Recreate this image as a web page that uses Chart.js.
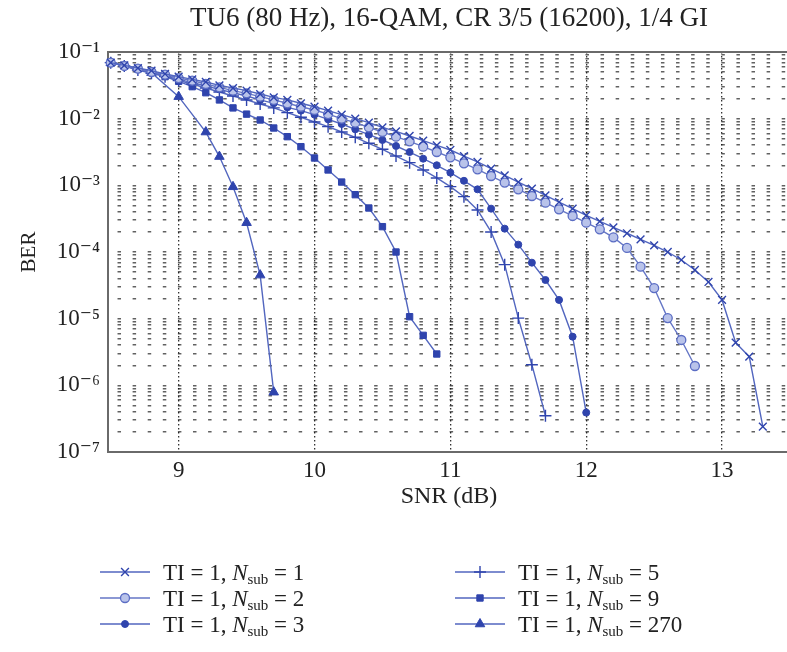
<!DOCTYPE html>
<html>
<head>
<meta charset="utf-8">
<script src="https://cdn.jsdelivr.net/npm/chart.js@4.4.1/dist/chart.umd.min.js"></script>
<style>
html,body{margin:0;padding:0;background:#fff;overflow:hidden;width:787px;height:652px}
#wrap{position:relative;width:800px;height:652px}
</style>
</head>
<body>
<div id="wrap"><canvas id="c" width="800" height="652"></canvas></div>
<script>
// ---- Data ----
const chartTitle = 'TU6 (80 Hz), 16-QAM, CR 3/5 (16200), 1/4 GI';
const xTitle = 'SNR (dB)';
const yTitle = 'BER';
const xTickValues = [9, 10, 11, 12, 13];
const yDecades = [1e-7, 1e-6, 1e-5, 1e-4, 1e-3, 1e-2, 1e-1];
const yTickLabels = ['10\u207B\u2077', '10\u207B\u2076', '10\u207B\u2075', '10\u207B\u2074', '10\u207B\u00B3', '10\u207B\u00B2', '10\u207B\u00B9'];
const legendNsub = ['1', '2', '3', '5', '9', '270'];

const snrN1 = [8.5,8.6,8.7,8.8,8.9,9.0,9.1,9.2,9.3,9.4,9.5,9.6,9.7,9.8,9.9,10.0,10.1,10.2,10.3,10.4,10.5,10.6,10.7,10.8,10.9,11.0,11.1,11.2,11.3,11.4,11.5,11.6,11.7,11.8,11.9,12.0,12.1,12.2,12.3,12.4,12.5,12.6,12.7,12.8,12.9,13.0,13.1,13.2,13.3];
const berN1 = [0.0692,0.0631,0.0575,0.0525,0.0468, 0.0427,0.0389,0.0355,0.0316,0.0288, 0.0263,0.0234,0.0209,0.0191,0.0170, 0.0151,0.0132,0.0115,0.0100,0.00871, 0.00741,0.00646,0.00550,0.00468,0.00398, 0.00339,0.00275,0.00224,0.00178,0.00141, 0.00112,8.91e-4,7.08e-4,5.62e-4,4.47e-4, 3.55e-4,2.88e-4,2.34e-4,1.91e-4,1.55e-4, 1.26e-4,1.00e-4,7.59e-5,5.37e-5,3.55e-5, 1.91e-5,4.37e-6,2.69e-6,2.4e-7];

const snrN2 = [8.5,8.6,8.7,8.8,8.9,9.0,9.1,9.2,9.3,9.4,9.5,9.6,9.7,9.8,9.9,10.0,10.1,10.2,10.3,10.4,10.5,10.6,10.7,10.8,10.9,11.0,11.1,11.2,11.3,11.4,11.5,11.6,11.7,11.8,11.9,12.0,12.1,12.2,12.3,12.4,12.5,12.6,12.7,12.8];
const berN2 = [0.0692,0.0617,0.0562,0.0501,0.0457, 0.0407,0.0372,0.0331,0.0295,0.0263, 0.0240,0.0214,0.0191,0.0170,0.0151, 0.0135,0.0117,0.0100,0.00871,0.00741, 0.00631,0.00537,0.00457,0.00380,0.00316, 0.00263,0.00214,0.00174,0.00138,0.00110, 8.71e-4,6.92e-4,5.50e-4,4.37e-4,3.47e-4, 2.75e-4,2.19e-4,1.66e-4,1.15e-4,6.03e-5, 2.88e-5,1.02e-5,4.79e-6,1.95e-6];

const snrN3 = [8.5,8.6,8.7,8.8,8.9,9.0,9.1,9.2,9.3,9.4,9.5,9.6,9.7,9.8,9.9,10.0,10.1,10.2,10.3,10.4,10.5,10.6,10.7,10.8,10.9,11.0,11.1,11.2,11.3,11.4,11.5,11.6,11.7,11.8,11.9,12.0];
const berN3 = [0.0692,0.0617,0.0550,0.0490,0.0437, 0.0389,0.0347,0.0309,0.0275,0.0245, 0.0219,0.0191,0.0170,0.0148,0.0132, 0.0115,0.00977,0.00832,0.00692,0.00575, 0.00479,0.00389,0.00316,0.00251,0.00200, 0.00155,0.00117,8.71e-4,4.47e-4,2.24e-4, 1.29e-4,6.92e-5,3.80e-5,1.91e-5,5.37e-6, 3.9e-7];

const snrN5 = [8.5,8.6,8.7,8.8,8.9,9.0,9.1,9.2,9.3,9.4,9.5,9.6,9.7,9.8,9.9,10.0,10.1,10.2,10.3,10.4,10.5,10.6,10.7,10.8,10.9,11.0,11.1,11.2,11.3,11.4,11.5,11.6,11.7];
const berN5 = [0.0692,0.0617,0.0537,0.0479,0.0427, 0.0372,0.0331,0.0288,0.0251,0.0219, 0.0191,0.0166,0.0145,0.0123,0.0105, 0.00891,0.00759,0.00631,0.00525,0.00427, 0.00347,0.00275,0.00219,0.00170,0.00129, 9.55e-4,6.76e-4,4.27e-4,2.00e-4,6.46e-5, 1.02e-5,2.04e-6,3.5e-7];

const snrN9 = [8.5,8.6,8.7,8.8,8.9,9.0,9.1,9.2,9.3,9.4,9.5,9.6,9.7,9.8,9.9,10.0,10.1,10.2,10.3,10.4,10.5,10.6,10.7,10.8,10.9];
const berN9 = [0.0692,0.0631,0.0562,0.0501,0.0427, 0.0363,0.0302,0.0245,0.0191,0.0145, 0.0117,0.00955,0.00724,0.00537,0.00380, 0.00257,0.00170,0.00112,7.24e-4,4.57e-4, 2.40e-4,1.00e-4,1.07e-5,5.62e-6,2.95e-6];

const snrN270 = [8.5, 8.8, 9.0, 9.2, 9.3, 9.4, 9.5, 9.6, 9.7];
const berN270 = [0.0692, 0.049, 0.0214, 0.0063, 0.0027, 0.00095, 0.000275, 4.5e-5, 7.9e-7];

// ---- Styling ----
const FONT = '"Liberation Serif", "DejaVu Serif", serif';
const LINE = '#5266bf';
const MARK = '#2f44ad';

function pts(xs, ys) { return xs.map((x, i) => ({ x: x, y: ys[i] })); }

const seriesDefs = [
  { n: legendNsub[0], xs: snrN1,   ys: berN1,   style: 'crossRot', r: 5.5, bg: MARK,      bc: MARK,      bw: 1.4, line: LINE },
  { n: legendNsub[1], xs: snrN2,   ys: berN2,   style: 'circle',   r: 4.5, bg: '#b9c3ea', bc: '#5b6dc4', bw: 1.3, line: '#6576c6' },
  { n: legendNsub[2], xs: snrN3,   ys: berN3,   style: 'circle',   r: 3.5, bg: MARK,      bc: MARK,      bw: 1,   line: LINE },
  { n: legendNsub[3], xs: snrN5,   ys: berN5,   style: 'cross',    r: 6,   bg: MARK,      bc: MARK,      bw: 1.4, line: LINE },
  { n: legendNsub[4], xs: snrN9,   ys: berN9,   style: 'rect',     r: 4.5, bg: MARK,      bc: MARK,      bw: 1,   line: LINE },
  { n: legendNsub[5], xs: snrN270, ys: berN270, style: 'triangle', r: 5.5, bg: MARK,      bc: MARK,      bw: 1,   line: LINE }
];

const datasets = seriesDefs.map(s => ({
  label: 'TI = 1, Nsub = ' + s.n,
  nsub: s.n,
  data: pts(s.xs, s.ys),
  borderColor: s.line,
  borderWidth: 1.4,
  pointStyle: s.style,
  pointRadius: s.r,
  pointBackgroundColor: s.bg,
  pointBorderColor: s.bc,
  pointBorderWidth: s.bw,
  pointHoverRadius: s.r,
  tension: 0,
  fill: false,
  clip: 10
}));

// minor log ticks (positions of the grid lines)
const yAllTicks = [];
yDecades.forEach((d, i) => {
  yAllTicks.push(d);
  if (i < yDecades.length - 1) { for (let m = 2; m <= 9; m++) yAllTicks.push(m * d); }
});

function decadeIndex(v) {
  const l = Math.log10(v);
  if (Math.abs(l - Math.round(l)) > 1e-6) return -1;
  return yDecades.findIndex(d => Math.abs(Math.log10(d) - l) < 1e-6);
}

// grid dash geometry: short dashes on horizontal lines every 1/9 dB
const X_MIN = 8.48, X_MAX = 13.5, LEFT = 108, RIGHT = 790;
const pxPerDb = (RIGHT - LEFT) / (X_MAX - X_MIN);
const period = pxPerDb / 9;
const dashLen = 3.5;
const firstCenter = ((9 - X_MIN) * pxPerDb) % period;
const dashOff = period - ((firstCenter - dashLen / 2 + period) % period);

const topBorder = {
  id: 'topBorder',
  afterDraw(chart) {
    const { ctx, chartArea } = chart;
    ctx.save();
    ctx.strokeStyle = '#6a6a6a';
    ctx.lineWidth = 2;
    ctx.beginPath();
    ctx.moveTo(chartArea.left, chartArea.top);
    ctx.lineTo(chartArea.right, chartArea.top);
    ctx.stroke();
    ctx.restore();
  }
};

const customLegend = {
  id: 'customLegend',
  afterDraw(chart) {
    const ctx = chart.ctx;
    const cols = [100, 455];
    const rows = [572, 598, 624];
    const order = [0, 1, 2, 3, 4, 5];
    order.forEach((di, k) => {
      const ds = chart.data.datasets[di];
      const x = cols[Math.floor(k / 3)];
      const y = rows[k % 3];
      ctx.save();
      ctx.strokeStyle = ds.borderColor;
      ctx.lineWidth = 1.4;
      ctx.beginPath();
      ctx.moveTo(x, y);
      ctx.lineTo(x + 50, y);
      ctx.stroke();
      ctx.fillStyle = ds.pointBackgroundColor;
      ctx.strokeStyle = ds.pointBorderColor;
      ctx.lineWidth = ds.pointBorderWidth;
      Chart.helpers.drawPoint(ctx, { pointStyle: ds.pointStyle, radius: ds.pointRadius, borderWidth: ds.pointBorderWidth, rotation: 0 }, x + 25, y);
      // text
      ctx.fillStyle = '#222';
      ctx.textBaseline = 'alphabetic';
      ctx.textAlign = 'left';
      let tx = x + 63;
      const by = y + 8;
      ctx.font = '23px ' + FONT;
      const p1 = 'TI = 1, ';
      ctx.fillText(p1, tx, by); tx += ctx.measureText(p1).width;
      ctx.font = 'italic 23px ' + FONT;
      ctx.fillText('N', tx, by); tx += ctx.measureText('N').width;
      ctx.font = '15px ' + FONT;
      ctx.fillText('sub', tx, by + 4); tx += ctx.measureText('sub').width;
      ctx.font = '23px ' + FONT;
      ctx.fillText(' = ' + ds.nsub, tx, by);
      ctx.restore();
    });
  }
};

new Chart(document.getElementById('c'), {
  type: 'line',
  data: { datasets: datasets },
  options: {
    responsive: false,
    animation: false,
    devicePixelRatio: 1,
    layout: { padding: { left: 17, right: 10, top: 0, bottom: 141 } },
    plugins: {
      legend: { display: false },
      tooltip: { enabled: false },
      title: {
        display: true,
        text: chartTitle,
        fullSize: false,
        color: '#222',
        font: { family: FONT, size: 27, weight: 'normal' },
        padding: { top: 3, bottom: 16.6 }
      }
    },
    scales: {
      x: {
        type: 'linear',
        min: X_MIN,
        max: X_MAX,
        afterBuildTicks: (scale) => { scale.ticks = xTickValues.map(v => ({ value: v })); },
        afterFit: (scale) => { scale.height = 59; },
        ticks: {
          autoSkip: false,
          maxRotation: 0,
          padding: 5,
          color: '#222',
          font: { family: FONT, size: 23 },
          callback: (v) => String(v)
        },
        grid: { color: 'rgba(0,0,0,0.8)', lineWidth: 1.3, drawTicks: false },
        border: { display: true, color: '#6a6a6a', width: 2, dash: [1.5, 2.5] },
        title: { display: true, text: xTitle, color: '#222', font: { family: FONT, size: 24 }, padding: 0 }
      },
      y: {
        type: 'logarithmic',
        min: 1e-7,
        max: 1e-1,
        afterBuildTicks: (scale) => { scale.ticks = yAllTicks.map(v => ({ value: v, major: decadeIndex(v) >= 0 })); },
        afterFit: (scale) => { scale.width = 91; },
        ticks: {
          autoSkip: false,
          padding: 8,
          color: '#222',
          font: { family: FONT, size: 23 },
          callback: (v) => { const i = decadeIndex(v); return i >= 0 ? yTickLabels[i] : ''; }
        },
        grid: { color: 'rgba(0,0,0,0.62)', lineWidth: 1.5, drawTicks: false },
        border: { display: true, color: '#6a6a6a', width: 2, dash: [dashLen, period - dashLen], dashOffset: dashOff },
        title: { display: true, text: yTitle, color: '#222', font: { family: FONT, size: 21 }, padding: 0 }
      }
    }
  },
  plugins: [topBorder, customLegend]
});
</script>
</body>
</html>
